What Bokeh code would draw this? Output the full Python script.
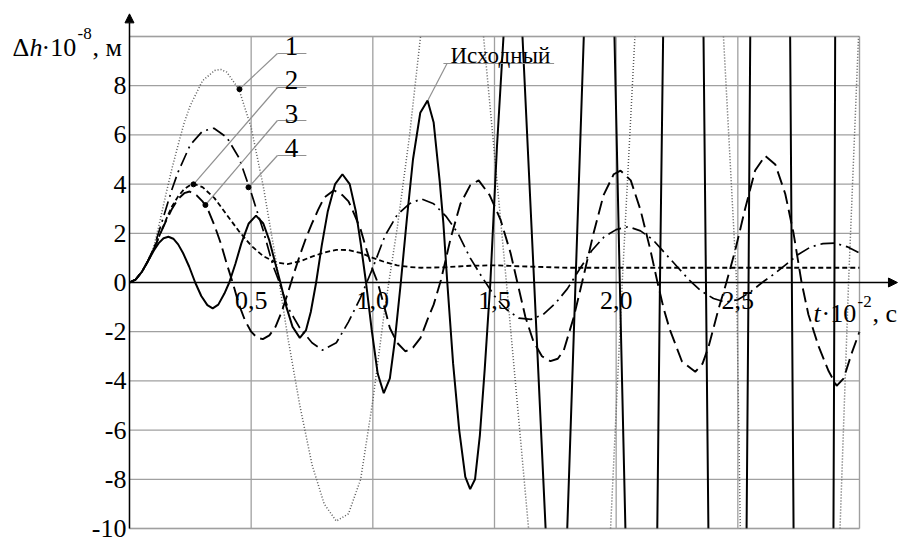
import numpy as np
from bokeh.plotting import figure
from bokeh.models import FixedTicker, Arrow, NormalHead, Label, BoxAnnotation, LinearAxis
from bokeh.embed import file_html
from bokeh.resources import INLINE

NA = float("nan")  # curve is off the chart (beyond +/-10) between two readings

# ---------------- data (t in 10^-2 s, dh in 10^-8 m) ----------------
t_base = [0, 0.025, 0.05, 0.075, 0.1, 0.12, 0.14, 0.16, 0.18, 0.2, 0.22, 0.245, 0.27, 0.295,
          0.32, 0.342, 0.365, 0.39, 0.41, 0.435, 0.46, 0.49, 0.52, 0.55, 0.575, 0.6, 0.62,
          0.645, 0.67, 0.70, 0.725, 0.745, 0.767, 0.79, 0.815, 0.845, 0.875, 0.905, 0.93,
          0.95, 0.972, 0.995, 1.02, 1.045, 1.07, 1.09, 1.115, 1.14, 1.165, 1.195, 1.225,
          1.25, 1.275, 1.29, 1.306, 1.33, 1.355, 1.38, 1.40, 1.42, 1.44, 1.46, 1.483, 1.51,
          1.537, 1.578, 1.615, 1.663, 1.71, 1.755, 1.799, 1.833, 1.867, 1.93, 1.993, 2.015,
          2.038, 2.105, 2.169, 2.18, 2.193, 2.276, 2.359, 2.369, 2.379, 2.457, 2.536, 2.544,
          2.551, 2.633, 2.715, 2.722, 2.729, 2.81, 2.893, 2.897, 2.9]
h_base = [0, 0.12, 0.42, 0.85, 1.3, 1.6, 1.8, 1.86, 1.78, 1.55, 1.2, 0.65, 0.0, -0.55,
          -0.92, -1.05, -0.9, -0.45, 0.0, 0.75, 1.6, 2.4, 2.72, 2.4, 1.7, 0.75, 0.0,
          -1.0, -1.8, -2.25, -1.95, -1.2, 0.0, 1.5, 2.9, 4.0, 4.4, 4.0, 2.9,
          1.6, 0.0, -1.9, -3.7, -4.5, -3.9, -2.4, 0.0, 2.6, 5.0, 6.9, 7.4,
          6.5, 4.1, 2.4, 0.0, -3.3, -6.0, -7.9, -8.4, -8.0, -6.2, -3.5, 0.0, 5.5,
          10.0, NA, 10.0, 0.0, -10.0, NA, -10.0, 0.0, 10.0, NA, 10.0, 0.0,
          -10.0, NA, -10.0, 0.0, 10.0, NA, 10.0, 0.0, -10.0, NA, -10.0, 0.0,
          10.0, NA, 10.0, 0.0, -10.0, NA, -10.0, 0.0, 10.0]

t_c1 = [0, 0.025, 0.05, 0.075, 0.1, 0.125, 0.15, 0.175, 0.2, 0.225, 0.25, 0.3, 0.35, 0.375,
        0.4, 0.45, 0.5, 0.55, 0.6, 0.65, 0.7, 0.75, 0.8, 0.85, 0.9, 0.95, 1.0, 1.05, 1.1,
        1.15, 1.196, 1.33, 1.455, 1.549, 1.64, 1.81, 1.977, 2.025, 2.077, 2.26, 2.441,
        2.495, 2.51, 2.72, 2.92, 2.955, 2.996]
h_c1 = [0, 0.12, 0.42, 0.88, 1.45, 2.5, 3.6, 4.65, 5.6, 6.5, 7.2, 8.2, 8.62, 8.66,
        8.55, 7.85, 6.3, 3.9, 1.0, -2.2, -5.0, -7.4, -9.0, -9.7, -9.4, -8.0, -4.8, -1.0, 2.2,
        5.9, 10.0, NA, 10.0, 0.0, -10.0, NA, -10.0, 0.0, 10.0, NA, 10.0,
        0.0, -10.0, NA, -10.0, 0.0, 10.0]

t_c2 = [0, 0.025, 0.05, 0.075, 0.1, 0.125, 0.15, 0.175, 0.2, 0.225, 0.25, 0.267, 0.3, 0.35,
        0.4, 0.45, 0.5, 0.55, 0.6, 0.65, 0.7, 0.75, 0.8, 0.85, 0.9, 0.95, 1.0, 1.05, 1.1,
        1.15, 1.2, 1.3, 1.4, 1.5, 1.6, 1.7, 1.8, 2.0, 2.5, 3.0]
h_c2 = [0, 0.12, 0.42, 0.85, 1.35, 1.95, 2.55, 3.1, 3.5, 3.8, 3.96, 4.0, 3.88, 3.42,
        2.75, 2.08, 1.5, 1.07, 0.82, 0.75, 0.86, 1.05, 1.22, 1.33, 1.32, 1.2, 1.0, 0.83, 0.7,
        0.63, 0.6, 0.62, 0.68, 0.7, 0.66, 0.63, 0.6, 0.6, 0.6, 0.6]

t_c3 = [0, 0.025, 0.05, 0.075, 0.1, 0.125, 0.15, 0.175, 0.2, 0.225, 0.247, 0.275, 0.3, 0.325,
        0.35, 0.375, 0.4, 0.424, 0.45, 0.475, 0.5, 0.525, 0.548, 0.575, 0.6, 0.625, 0.65,
        0.675, 0.7, 0.725, 0.75, 0.775, 0.8, 0.84, 0.875, 0.9, 0.925, 0.95, 0.975, 1.0,
        1.02, 1.045, 1.07, 1.1, 1.134, 1.165, 1.196, 1.225, 1.25, 1.28, 1.32, 1.36, 1.4,
        1.435, 1.48, 1.525, 1.566, 1.594, 1.627, 1.66, 1.695, 1.73, 1.76, 1.785, 1.826,
        1.867, 1.907, 1.948, 1.99, 2.018, 2.06, 2.1, 2.14, 2.17, 2.195, 2.22, 2.27, 2.325,
        2.355, 2.38, 2.42, 2.453, 2.489, 2.53, 2.571, 2.612, 2.654, 2.695, 2.729, 2.762,
        2.79, 2.832, 2.873, 2.906, 2.935, 2.967, 3.0]
h_c3 = [0, 0.12, 0.42, 0.85, 1.35, 1.95, 2.5, 3.0, 3.4, 3.63, 3.7, 3.55, 3.3, 2.9,
        2.3, 1.6, 0.75, 0.0, -0.9, -1.55, -2.0, -2.25, -2.3, -2.15, -1.8, -1.2, -0.45,
        0.35, 1.1, 1.8, 2.4, 2.95, 3.45, 3.75, 3.55, 3.3, 2.75, 2.15, 1.3, 0.5,
        0.0, -0.9, -1.85, -2.45, -2.8, -2.65, -2.25, -1.5, -0.9, 0.1, 1.8, 3.2, 3.95,
        4.15, 3.55, 2.55, 1.2, 0.0, -1.4, -2.4, -3.0, -3.2, -3.1, -2.75, -1.4,
        0.3, 2.0, 3.55, 4.4, 4.55, 4.15, 2.95, 1.35, 0.0, -1.05, -1.9, -3.2, -3.63,
        -3.3, -2.6, -1.1, 0.0, 1.3, 3.0, 4.55, 5.15, 4.8, 3.6, 2.0, 0.0,
        -1.3, -2.6, -3.6, -4.2, -3.9, -2.9, -2.0]

t_c4 = [0, 0.025, 0.05, 0.075, 0.1, 0.125, 0.15, 0.175, 0.2, 0.25, 0.3, 0.347, 0.4, 0.45,
        0.5, 0.55, 0.59, 0.616, 0.65, 0.7, 0.75, 0.793, 0.85, 0.9, 0.95, 1.0, 1.05, 1.1,
        1.15, 1.2, 1.25, 1.3, 1.35, 1.4, 1.45, 1.5, 1.55, 1.6, 1.65, 1.7, 1.75, 1.8, 1.85,
        1.9, 1.95, 2.0, 2.05, 2.1, 2.15, 2.2, 2.25, 2.3, 2.35, 2.4, 2.45, 2.5, 2.55, 2.6,
        2.65, 2.7, 2.75, 2.8, 2.85, 2.9, 2.95, 3.0]
h_c4 = [0, 0.12, 0.42, 0.87, 1.4, 2.2, 3.0, 3.8, 4.5, 5.6, 6.15, 6.27, 5.9, 5.07,
        3.65, 2.1, 0.68, 0.0, -1.0, -1.85, -2.45, -2.75, -2.45, -1.6, -0.6, 0.6, 1.9, 2.75,
        3.2, 3.4, 3.2, 2.7, 2.0, 1.0, 0.2, -0.55, -1.1, -1.45, -1.5, -1.3, -0.85, -0.25, 0.55,
        1.3, 1.85, 2.15, 2.27, 2.1, 1.75, 1.2, 0.65, 0.1, -0.35, -0.65, -0.8, -0.7, -0.4, 0.0,
        0.35, 0.75, 1.15, 1.45, 1.58, 1.6, 1.45, 1.2]

x_label_ticks = [0.5, 1.0, 1.5, 2.0, 2.5]
x_tick_labels = ["0,5", "1,0", "1,5", "2,0", "2,5"]
x_grid_ticks = [0.5, 1.0, 1.5, 2.0, 2.5, 3.0]
y_label_ticks = [-10, -8, -6, -4, -2, 0, 2, 4, 6, 8]
y_tick_labels = ["-10", "-8", "-6", "-4", "-2", "0", "2", "4", "6", "8"]
y_grid_ticks = [-10, -8, -6, -4, -2, 2, 4, 6, 8, 10]
t_min, t_max = 0.0, 3.0
h_min, h_max = -10.0, 10.0

callout_names = ["1", "2", "3", "4"]
callout_target_t = [0.452, 0.263, 0.312, 0.489]
callout_target_h = [7.86, 3.99, 3.15, 3.87]
callout_line_h = [9.309, 7.927, 6.585, 5.163]
base_name = "Исходный"

FONT = "Liberation Serif"
GRID = "#a0a0a0"
RAISE = 6  # px: lift of text labels above their anchor baseline

# ---------------- figure ----------------
p = figure(width=900, height=545, x_range=(-0.5301, 3.1685), y_range=(-10.691, 11.4634),
           output_backend="svg", toolbar_location=None, title=None,
           x_axis_location=None, y_axis_location=None,
           min_border_left=0, min_border_right=0, min_border_top=0, min_border_bottom=0)
p.background_fill_color = "white"
p.border_fill_color = "white"
p.outline_line_color = None
p.xgrid.visible = False
p.ygrid.visible = False

# grid lines limited to the data region
p.segment(x0=x_grid_ticks, y0=[h_min] * len(x_grid_ticks), x1=x_grid_ticks,
          y1=[h_max] * len(x_grid_ticks), line_color=GRID, line_width=1.3)
p.segment(x0=[t_min] * len(y_grid_ticks), y0=y_grid_ticks, x1=[t_max] * len(y_grid_ticks),
          y1=y_grid_ticks, line_color=GRID, line_width=1.3)

# axes fixed at t = 0 and dh = 0
xa = LinearAxis(fixed_location=0, ticker=FixedTicker(ticks=x_label_ticks),
                major_label_overrides={v: s for v, s in zip(x_label_ticks, x_tick_labels)},
                major_label_standoff=9)
ya = LinearAxis(fixed_location=0, ticker=FixedTicker(ticks=y_label_ticks),
                major_label_overrides={v: s for v, s in zip(y_label_ticks, y_tick_labels)},
                major_label_standoff=3)
for ax in (xa, ya):
    ax.axis_line_color = None
    ax.major_tick_in = 0
    ax.major_tick_out = 0
    ax.minor_tick_in = 0
    ax.minor_tick_out = 0
    ax.major_label_text_font = FONT
    ax.major_label_text_font_size = "26px"
    ax.major_label_text_color = "black"
p.add_layout(xa, "below")
p.add_layout(ya, "left")

# curves (NaN gaps where a curve leaves the +/-10 window)
p.line(np.array(t_c1), np.array(h_c1), line_color="#5a5a5a", line_width=1.5, line_dash="1 2")
p.line(np.array(t_c2), np.array(h_c2), line_color="black", line_width=1.8, line_dash="5 3")
p.line(np.array(t_c3), np.array(h_c3), line_color="black", line_width=1.9, line_dash="14 6")
p.line(np.array(t_c4), np.array(h_c4), line_color="black", line_width=1.7,
       line_dash="14 5 2 5")
p.line(np.array(t_base), np.array(h_base), line_color="black", line_width=2.0)

# callouts 1-4
lx0, lx1 = 0.608, 0.727
p.segment(x0=[lx0] * 4, y0=callout_line_h, x1=[lx1] * 4, y1=callout_line_h,
          line_color="#909090", line_width=1.2)
p.segment(x0=[lx0] * 4, y0=callout_line_h, x1=callout_target_t, y1=callout_target_h,
          line_color="#909090", line_width=1.2)
p.scatter(callout_target_t, callout_target_h, size=5, color="black")

# base callout
p.segment(x0=[1.29], y0=[8.902], x1=[1.745], y1=[8.902], line_color="#909090", line_width=1.2)
p.segment(x0=[1.305], y0=[8.902], x1=[1.227], y1=[7.42], line_color="#909090", line_width=1.2)

# white strip along the very top edge of the canvas (above the arrow tip)
p.add_layout(BoxAnnotation(bottom=11.18, fill_color="white", fill_alpha=1.0, line_color=None))

# border of the data region
p.add_layout(BoxAnnotation(left=t_min, right=t_max, bottom=h_min, top=h_max,
                           fill_color=None, fill_alpha=0, line_color=GRID, line_width=1.3))

# axis arrows
p.add_layout(Arrow(end=NormalHead(size=9, fill_color="black", line_color="black"),
                   x_start=0, y_start=h_min, x_end=0, y_end=10.92,
                   line_color="black", line_width=1.5))
p.add_layout(Arrow(end=NormalHead(size=9, fill_color="black", line_color="black"),
                   x_start=0, y_start=0, x_end=3.156, y_end=0,
                   line_color="black", line_width=1.5))

for name, hy in zip(callout_names, callout_line_h):
    p.add_layout(Label(x=0.666, y=hy, y_offset=1 + RAISE, text=name, text_align="center",
                       text_baseline="alphabetic", text_font=FONT, text_font_size="27px",
                       text_color="black"))
p.add_layout(Label(x=1.319, y=8.902, y_offset=2 + RAISE, text=base_name, text_align="left",
                   text_baseline="alphabetic", text_font=FONT, text_font_size="23px",
                   text_color="black"))

def piece(x, y, text, dx, dy, size="26px", style="normal"):
    p.add_layout(Label(x=x, y=y, x_offset=dx, y_offset=dy + RAISE, text=text,
                       text_align="left", text_baseline="alphabetic", text_font=FONT,
                       text_font_size=size, text_font_style=style, text_color="black"))

# y-axis title  Δh·10^-8, м
yx, yy = -0.4808, 9.146
piece(yx, yy, "Δ", 0, 4)
piece(yx, yy, "h", 17, 4, style="italic")
piece(yx, yy, "·10", 29, 4)
piece(yx, yy, "-8", 65, 18, size="17px")
piece(yx, yy, ", м", 80, 4)

# x-axis title  t·10^-2, с
tx, ty = 2.811, -1.524
piece(tx, ty, "t", 0, 0, style="italic")
piece(tx, ty, "·10", 8, 0)
piece(tx, ty, "-2", 44, 12, size="17px")
piece(tx, ty, ", с", 59, 0)

open("out.html", "w").write(file_html(p, INLINE))
